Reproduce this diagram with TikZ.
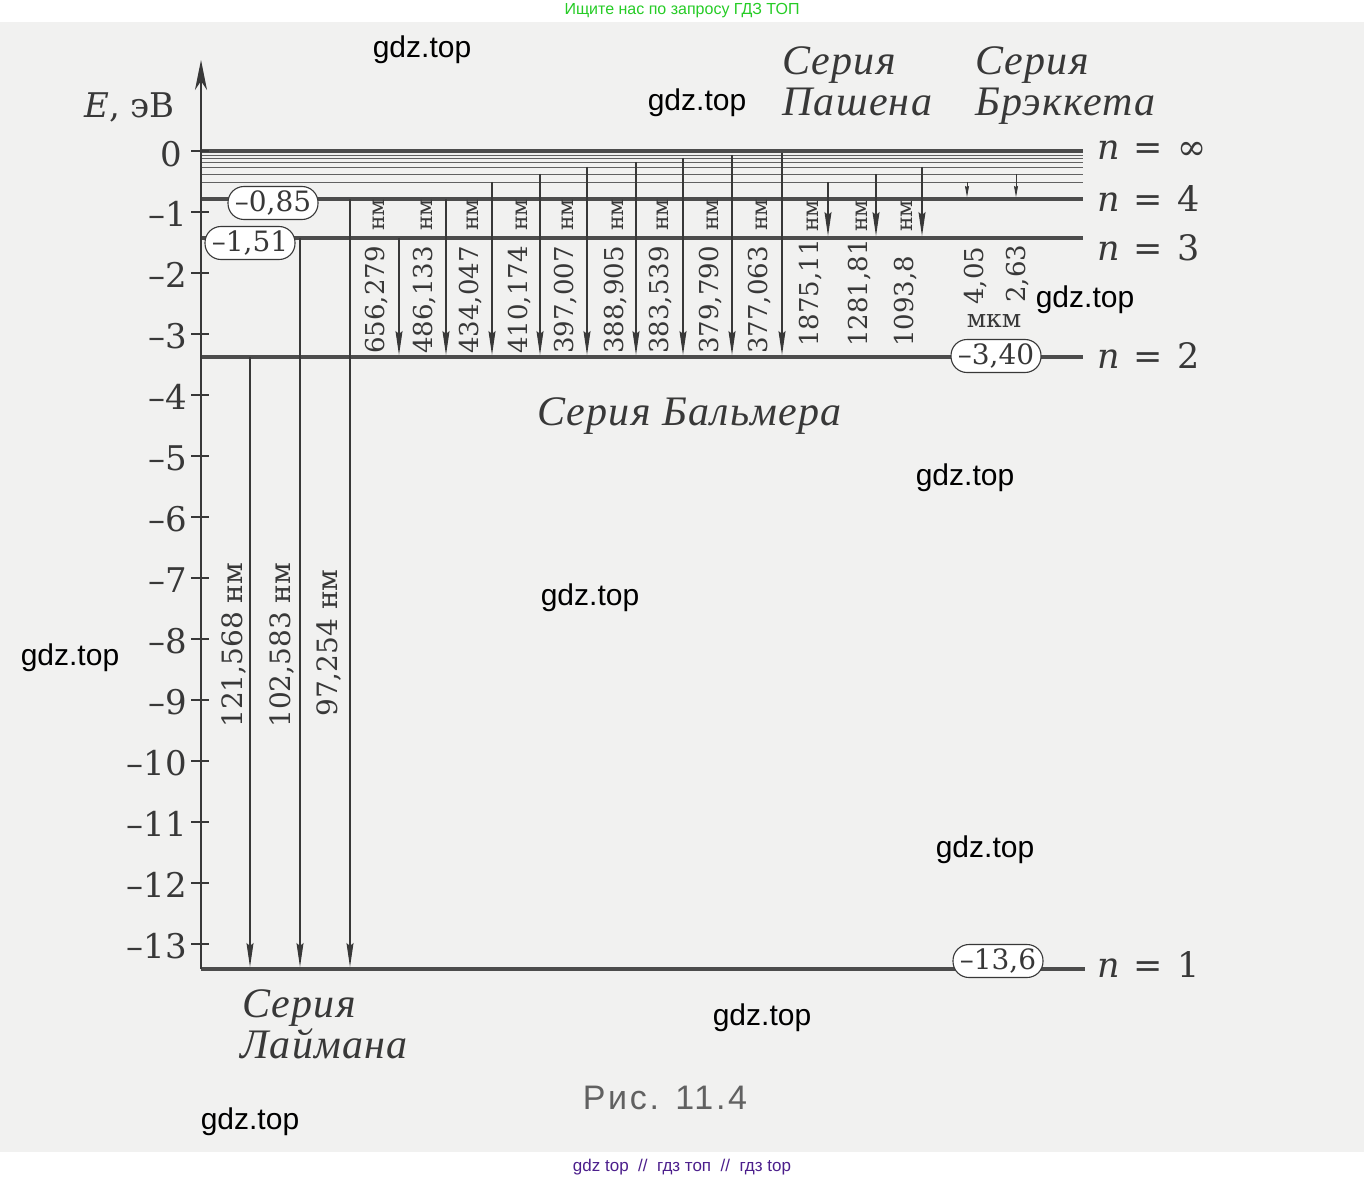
\documentclass[tikz,border=0pt]{standalone}
\usepackage{fontspec}
\setmainfont{DejaVu Serif}
\newfontfamily\wmfont{Liberation Sans}
\newfontfamily\itserif[LetterSpace=3]{Liberation Serif}
\usetikzlibrary{arrows.meta}
\newcommand\fsz[1]{\fontsize{#1}{#1}\selectfont}
\definecolor{ink}{rgb}{0.22,0.22,0.22}
\definecolor{paper}{rgb}{0.945,0.945,0.94}
\definecolor{wmgreen}{rgb}{0.15,0.8,0.15}
\definecolor{wmpurple}{rgb}{0.3,0.12,0.55}
\begin{document}
\begin{tikzpicture}[x=1pt,y=-1pt,
  level/.style={line width=3.4pt, draw=black!70},
  sublevel/.style={line width=0.9pt, draw=black!62},
  axisline/.style={line width=1.4pt, draw=ink, -{Stealth[length=30pt,width=12pt,inset=9pt]}},
  tickmark/.style={line width=1.2pt, draw=ink},
  ticklab/.style={anchor=east, font=\fsz{34}, text=ink, inner sep=0pt},
  trans/.style={line width=1.1pt, draw=ink, -{Stealth[length=24pt,width=7pt,inset=3pt]}},
  smalltrans/.style={line width=0.8pt, draw=ink, -{Stealth[length=11pt,width=4pt,inset=1pt]}},
  valbox/.style={draw=ink, line width=1.1pt, fill=white, rounded corners=16pt, minimum width=90pt, minimum height=33pt, inner sep=0pt, font=\fsz{28}, text=ink},
  wl/.style={rotate=90, anchor=base west, font=\fsz{26}, text=ink, inner sep=0pt},
  wlbig/.style={rotate=90, anchor=base west, font=\fsz{28}, text=ink, inner sep=0pt},
  unit/.style={rotate=90, anchor=base west, font=\fsz{22}, text=ink, inner sep=0pt},
  nlab/.style={anchor=base west, font=\fsz{35}, text=ink, inner sep=0pt},
  series/.style={anchor=base west, font=\itserif\fsz{42}\itshape, text=ink, inner sep=0pt},
  wm/.style={font=\wmfont\fsz{30}, text=black, inner sep=0pt}
]
\useasboundingbox (0,0) rectangle (1364,1182);
\fill[white] (0,0) rectangle (1364,1182);
\fill[paper] (0,22) rectangle (1364,1152);

% sublevels n = 5..10
\foreach \yy in {155,158,162,167,174,182}
  \draw[sublevel] (201,\yy) -- (1083,\yy);
% main levels
\draw[level] (201,151) -- (1083,151);
\draw[level] (201,199) -- (1083,199);
\draw[level] (201,238) -- (1083,238);
\draw[level] (201,357) -- (1083,357);
\draw[level] (201,969) -- (1085,969);

% axis
\draw[axisline] (201,969) -- (201,60);
\foreach \e in {0,...,13}
  \draw[tickmark] (191,{151+61*\e}) -- (209,{151+61*\e});
\node[ticklab] (t0) at (182,154) {0};
\foreach \e in {1,...,13}
  \node[ticklab] (t\e) at (187,{153+61*\e}) {–\e};
\node[anchor=base west, font=\fsz{34}, text=ink, inner sep=0pt] (elab) at (84,118) {\textit{E}, эВ};

% Lyman series
\draw[trans] (250,357) -- (250,967);
\draw[trans] (300,238) -- (300,967);
\draw[trans] (350,199) -- (350,967);
\node[wlbig] (l1) at (242,728) {121,568 нм};
\node[wlbig] (l2) at (290,728) {102,583 нм};
\node[wlbig] (l3) at (337,717) {97,254 нм};

% Balmer series
\draw[trans] (399,238) -- (399,355);
\draw[trans] (446,199) -- (446,355);
\draw[trans] (492,182) -- (492,355);
\draw[trans] (540,174) -- (540,355);
\draw[trans] (587,167) -- (587,355);
\draw[trans] (636,162) -- (636,355);
\draw[trans] (683,158) -- (683,355);
\draw[trans] (732,155) -- (732,355);
\draw[trans] (782,153) -- (782,355);
\node[wl] (b1) at (384,354) {656,279};
\node[wl] (b2) at (432,354) {486,133};
\node[wl] (b3) at (478,354) {434,047};
\node[wl] (b4) at (527,354) {410,174};
\node[wl] (b5) at (573,354) {397,007};
\node[wl] (b6) at (623,354) {388,905};
\node[wl] (b7) at (668,354) {383,539};
\node[wl] (b8) at (718,354) {379,790};
\node[wl] (b9) at (767,354) {377,063};
\foreach \xx [count=\i] in {384,432,478,527,573,623,668,718,767}
  \node[unit] (bu\i) at (\xx,231) {нм};

% Paschen series
\draw[trans] (828,182) -- (828,236);
\draw[trans] (876,174) -- (876,236);
\draw[trans] (922,167) -- (922,236);
\node[wl] (p1) at (818,347) {1875,11};
\node[wl] (p2) at (867,347) {1281,81};
\node[wl] (p3) at (913,347) {1093,8};
\foreach \xx [count=\i] in {818,867,912}
  \node[unit] (pu\i) at (\xx,232) {нм};

% Brackett series
\draw[smalltrans] (967,182) -- (967,197);
\draw[smalltrans] (1016,174) -- (1016,197);
\node[wl] (k1) at (983,305) {4,05};
\node[wl] (k2) at (1025,303) {2,63};
\node[font=\fsz{25}, text=ink, inner sep=0pt] (mkm) at (994,321) {мкм};

% value boxes
\node[valbox] (v4) at (273,203) {–0,85};
\node[valbox] (v3) at (250,243) {–1,51};
\node[valbox] (v2) at (996,356) {–3,40};
\node[valbox] (v1) at (998,961) {–13,6};

% level labels
\node[nlab] (ninf) at (1097,160) {\textit{n}\hspace{.4em}=\hspace{.4em}∞};
\node[nlab] (n4) at (1097,212) {\textit{n}\hspace{.4em}=\hspace{.4em}4};
\node[nlab] (n3) at (1097,260) {\textit{n}\hspace{.4em}=\hspace{.4em}3};
\node[nlab] (n2) at (1097,368) {\textit{n}\hspace{.4em}=\hspace{.4em}2};
\node[nlab] (n1) at (1097,977) {\textit{n}\hspace{.4em}=\hspace{.4em}1};

% series names
\node[series] (sp1) at (782,75) {Серия};
\node[series] (sp2) at (782,116) {Пашена};
\node[series] (sk1) at (975,75) {Серия};
\node[series] (sk2) at (975,116) {Брэккета};
\node[series] (sb) at (537,425) {Серия Бальмера};
\node[series] (sl1) at (242,1017) {Серия};
\node[series] (sl2) at (240,1058) {Лаймана};

% caption
\node[font=\wmfont\fsz{34}\addfontfeature{LetterSpace=8}, text=black!62, inner sep=0pt] (cap) at (665,1098) {Рис. 11.4};

% watermarks
\node[wm] (w1) at (422,50) {gdz.top};
\node[wm] (w2) at (697,103) {gdz.top};
\node[wm] (w3) at (1085,300) {gdz.top};
\node[wm] (w4) at (965,478) {gdz.top};
\node[wm] (w5) at (590,598) {gdz.top};
\node[wm] (w6) at (70,658) {gdz.top};
\node[wm] (w7) at (985,850) {gdz.top};
\node[wm] (w8) at (762,1018) {gdz.top};
\node[wm] (w9) at (250,1122) {gdz.top};
\node[font=\wmfont\fsz{16}, text=wmgreen, inner sep=0pt] (top) at (682,11) {Ищите нас по запросу ГДЗ ТОП};
\node[font=\wmfont\fsz{17}, text=wmpurple, inner sep=0pt] (bot) at (682,1167) {gdz top \ // \ гдз топ \ // \ гдз top};
\end{tikzpicture}
\end{document}
